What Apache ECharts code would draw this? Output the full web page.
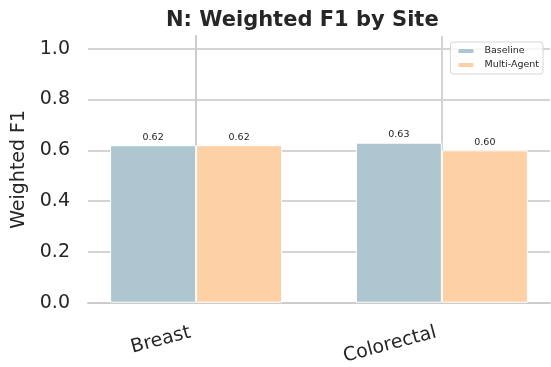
<!DOCTYPE html>
<html>
<head>
<meta charset="utf-8">
<script src="https://cdn.jsdelivr.net/npm/echarts@6/dist/echarts.min.js"></script>
<style>
  html, body { margin: 0; padding: 0; background: #fff; }
  #chart { width: 551px; height: 367px; }
</style>
</head>
<body>
<div id="chart"></div>
<script>
// Weighted F1 per tumour site, two systems side by side
const sites = ['Breast', 'Colorectal'];
const baselineF1 = [0.62, 0.63];
const multiAgentF1 = [0.62, 0.60];
const yTicks = [0, 0.2, 0.4, 0.6, 0.8, 1.0];

const FONT = 'DejaVu Sans';
const INK = '#262626';
const GRID = '#d4d4d4';

const siteIdx = sites.map((_, i) => i);
const toPoints = vals => vals.map((v, i) => [i, v]);

const chart = echarts.init(document.getElementById('chart'), null, { renderer: 'canvas' });

const barLabel = {
  show: true,
  position: 'top',
  distance: 3,
  fontFamily: FONT,
  fontSize: 9.5,
  color: INK,
  formatter: p => p.value[1].toFixed(2)
};

chart.setOption({
  animation: false,
  backgroundColor: '#ffffff',
  title: {
    text: 'N: Weighted F1 by Site',
    left: 166,
    top: 10,
    padding: 0,
    textStyle: { fontFamily: FONT, fontSize: 21, fontWeight: 'bold', color: INK }
  },
  legend: {
    orient: 'vertical',
    right: 8,
    top: 42,
    padding: [4, 4, 4, 6],
    itemGap: 4,
    itemWidth: 17,
    itemHeight: 6,
    icon: 'rect',
    backgroundColor: 'rgba(255,255,255,0.8)',
    borderColor: '#d6d6d6',
    borderWidth: 1,
    borderRadius: 3,
    textStyle: { fontFamily: FONT, fontSize: 9.5, color: INK, padding: [0, 0, 0, 5] },
    data: ['Baseline', 'Multi-Agent']
  },
  grid: { left: 88, right: 1, top: 36, bottom: 62, containLabel: false },
  xAxis: {
    type: 'value',
    min: -0.44,
    max: 1.44,
    axisLine: { show: true, lineStyle: { color: '#cccccc', width: 2 } },
    axisTick: { show: false, customValues: siteIdx },
    axisLabel: {
      customValues: siteIdx,
      formatter: v => sites[Math.round(v)],
      rotate: 15,
      margin: 28,
      padding: [0, 6, 0, 0],
      fontFamily: FONT,
      fontSize: 19,
      color: INK
    },
    splitLine: { show: true, lineStyle: { color: GRID, width: 2 } }
  },
  yAxis: {
    type: 'value',
    min: 0,
    max: 1.05,
    name: 'Weighted F1',
    nameLocation: 'middle',
    nameGap: 53,
    nameTextStyle: { fontFamily: FONT, fontSize: 19, color: INK },
    axisLine: { show: true, lineStyle: { color: '#cccccc', width: 2 } },
    axisTick: { show: false, customValues: yTicks },
    axisLabel: {
      customValues: yTicks,
      formatter: v => v.toFixed(1),
      margin: 18,
      fontFamily: FONT,
      fontSize: 19,
      color: INK
    },
    splitLine: { show: true, lineStyle: { color: GRID, width: 2 } }
  },
  series: [
    {
      name: 'Baseline',
      type: 'bar',
      data: toPoints(baselineF1),
      barWidth: '35%',
      barGap: '0%',
      itemStyle: { color: '#aec6cf', borderColor: '#ffffff', borderWidth: 1 },
      label: barLabel
    },
    {
      name: 'Multi-Agent',
      type: 'bar',
      data: toPoints(multiAgentF1),
      barWidth: '35%',
      barGap: '0%',
      itemStyle: { color: '#fed0a6', borderColor: '#ffffff', borderWidth: 1 },
      label: barLabel
    }
  ]
});
</script>
</body>
</html>
